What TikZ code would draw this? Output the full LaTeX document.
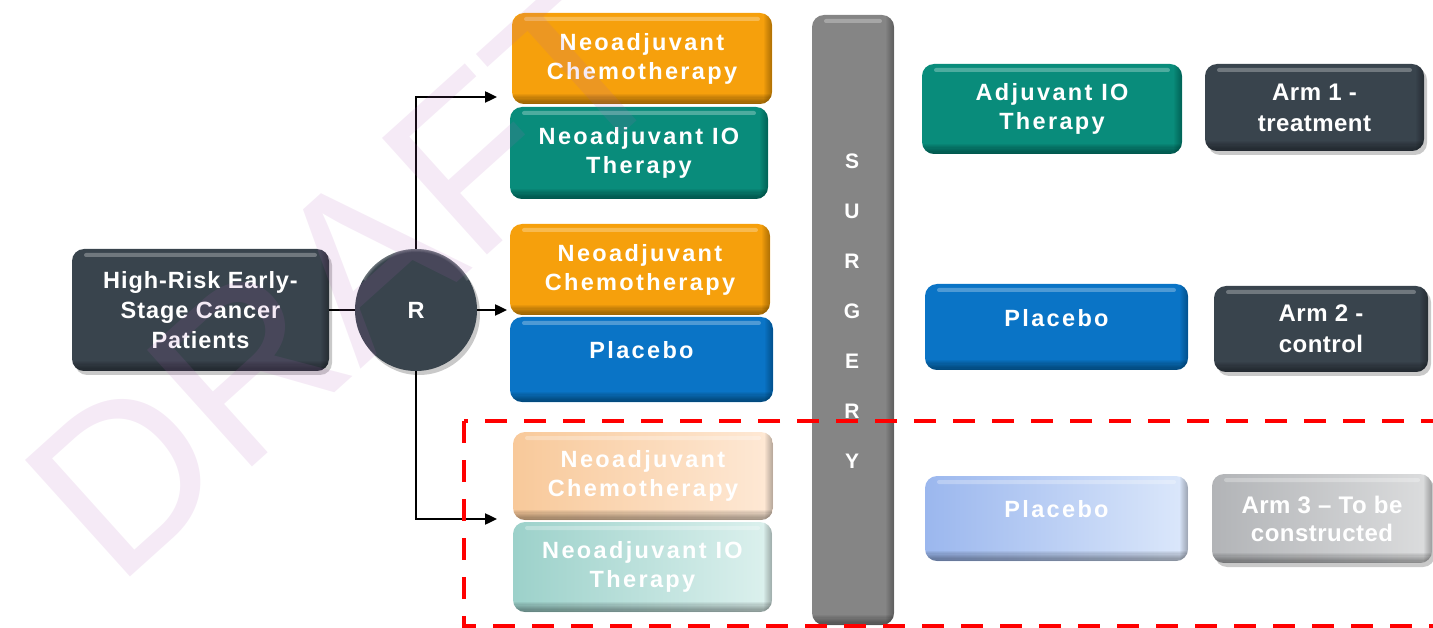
\documentclass[tikz,border=0pt]{standalone}
\usepackage{fontspec}
\setmainfont{Liberation Sans}
\newfontfamily\boxfont{Liberation Sans}[LetterSpace=10]
\newfontfamily\hrfont{Liberation Sans}[LetterSpace=4]
\newfontfamily\armfont{Liberation Sans}[LetterSpace=2]
\usetikzlibrary{arrows.meta,shadows}

\definecolor{slate}{HTML}{39444D}
\definecolor{orng}{HTML}{F6A00C}
\definecolor{tealc}{HTML}{098C7B}
\definecolor{blu}{HTML}{0A74C6}
\definecolor{barg}{HTML}{858585}
\definecolor{fadeOa}{HTML}{F8C99A}
\definecolor{fadeOb}{HTML}{FEE9D6}
\definecolor{fadeTa}{HTML}{9CD1CA}
\definecolor{fadeTb}{HTML}{DDF1EE}
\definecolor{fadeBa}{HTML}{9BB7EE}
\definecolor{fadeBb}{HTML}{DCE8FB}
\definecolor{fadeGa}{HTML}{B2B4B7}
\definecolor{fadeGb}{HTML}{DCDDDE}
\definecolor{wmark}{RGB}{176,96,184}
\definecolor{dashred}{HTML}{FF0000}

\tikzset{
  % rounded box with a darker bottom/right rim and a light top band
  bevel/.style={rounded corners=12pt,
    path picture={
      \foreach \k in {1,...,8}{
        \fill[sharp corners, black, opacity=.05]
          ([yshift=\k*1.3pt]path picture bounding box.south west) rectangle (path picture bounding box.south east);
        \fill[sharp corners, black, opacity=.035]
          ([xshift=-\k*1pt]path picture bounding box.north east) rectangle (path picture bounding box.south east);
      }
      \fill[white, opacity=.28, rounded corners=2pt]
        ([xshift=12pt,yshift=-4pt]path picture bounding box.north west) rectangle ([xshift=-12pt,yshift=-8pt]path picture bounding box.north east);
    }},
  boxtext/.style={text=white, align=center, inner sep=0pt,
    font=\boxfont\bfseries\fontsize{23.5}{29}\selectfont},
  tbox/.style={bevel, fill=#1, boxtext},
  fbox/.style 2 args={bevel, left color=#1, right color=#2, boxtext},
  shad/.style={drop shadow={shadow xshift=3pt, shadow yshift=-4pt, opacity=.3, fill=black!70}},
  darkbox/.style={bevel, fill=slate, shad, text=white, align=center, inner sep=0pt},
  raise/.style={text depth=#1},
  conn/.style={line width=2.4pt, black},
}

\begin{document}
\begin{tikzpicture}[x=1pt, y=-1pt, >={Triangle[length=12pt,width=11pt]}]
\useasboundingbox (0,0) rectangle (1433,628);
\clip (0,0) rectangle (1433,628);

% population and randomisation
\node[darkbox, minimum width=257pt, minimum height=122pt,
      font=\hrfont\bfseries\fontsize{23.5}{30}\selectfont] (hr) at (200.5,310)
  {High-Risk Early-\\Stage Cancer\\Patients};
\node[circle, fill=slate, shad, minimum size=122pt, text=white,
      font=\bfseries\fontsize{23.5}{29}\selectfont,
      path picture={
        \foreach \k in {1,...,6}{
          \draw[white, opacity=.05, line width=\k*1pt]
            (path picture bounding box.center) ++(150:61pt) arc[start angle=150, end angle=30, radius=61pt];
        }}] (R) at (416,310) {R};

% neoadjuvant phase
\node[tbox=orng, minimum width=260pt, minimum height=91pt] (nc1) at (642,58.5) {Neoadjuvant\\Chemotherapy};
\node[tbox=tealc, minimum width=258pt, minimum height=92pt] (nio1) at (639,153) {Neoadjuvant IO\\Therapy};
\node[tbox=orng, minimum width=260pt, minimum height=91pt] (nc2) at (640,269.5) {Neoadjuvant\\Chemotherapy};
\node[tbox=blu, minimum width=263pt, minimum height=85pt, raise=19pt] (np2) at (641.5,359.5) {Placebo};
\node[fbox={fadeOa}{fadeOb}, minimum width=260pt, minimum height=88pt] (nc3) at (643,476) {Neoadjuvant\\Chemotherapy};
\node[fbox={fadeTa}{fadeTb}, minimum width=259pt, minimum height=90pt] (nio3) at (642.5,567) {Neoadjuvant IO\\Therapy};

% surgery
\node[bevel, fill=barg, minimum width=82pt, minimum height=610pt] (surg) at (853,320) {};
\node[text=white, align=center, inner sep=0pt,
      font=\bfseries\fontsize{21}{50}\selectfont] (surgtxt) at (852,311) {S\\U\\R\\G\\E\\R\\Y};

% adjuvant phase
\node[tbox=tealc, minimum width=260pt, minimum height=90pt] (aio1) at (1052,109) {Adjuvant IO\\Therapy};
\node[tbox=blu, minimum width=263pt, minimum height=86pt, raise=18pt] (ap2) at (1056.5,327) {Placebo};
\node[fbox={fadeBa}{fadeBb}, minimum width=263pt, minimum height=85pt, raise=20pt] (ap3) at (1056.5,518.5) {Placebo};

% arms
\node[darkbox, minimum width=219pt, minimum height=87pt,
      font=\armfont\bfseries\fontsize{24}{31}\selectfont] (arm1) at (1314.5,107.5) {Arm 1 -\\treatment};
\node[darkbox, minimum width=214pt, minimum height=86pt,
      font=\armfont\bfseries\fontsize{24}{31}\selectfont] (arm2) at (1321,329) {Arm 2 -\\control};
\node[bevel, left color=fadeGa, right color=fadeGb, shad, text=white, align=center, inner sep=0pt,
      minimum width=220pt, minimum height=89pt,
      font=\armfont\bfseries\fontsize{24}{28}\selectfont] (arm3) at (1322,518.5) {Arm 3 – To be\\constructed};

% randomisation connectors
\coordinate (tipA) at (497,97);
\coordinate (tipB) at (507,310);
\coordinate (tipC) at (497,519);
\draw[conn] (hr.east) -- (R.west);
\draw[conn,->] (R.north) |- (tipA);
\draw[conn,->] (R.east) -- (tipB);
\draw[conn,->] (R.south) |- (tipC);

% arm under construction
\draw[dashred, line width=4pt, dash pattern=on 22pt off 17pt] (464,421) rectangle (1470,626);

% watermark
\node[rotate=42, anchor=base west, text=wmark, text opacity=.13, inner sep=0pt,
      font=\fontsize{228}{228}\selectfont] (wm) at (116,590) {DRAFT};
\end{tikzpicture}
\end{document}
